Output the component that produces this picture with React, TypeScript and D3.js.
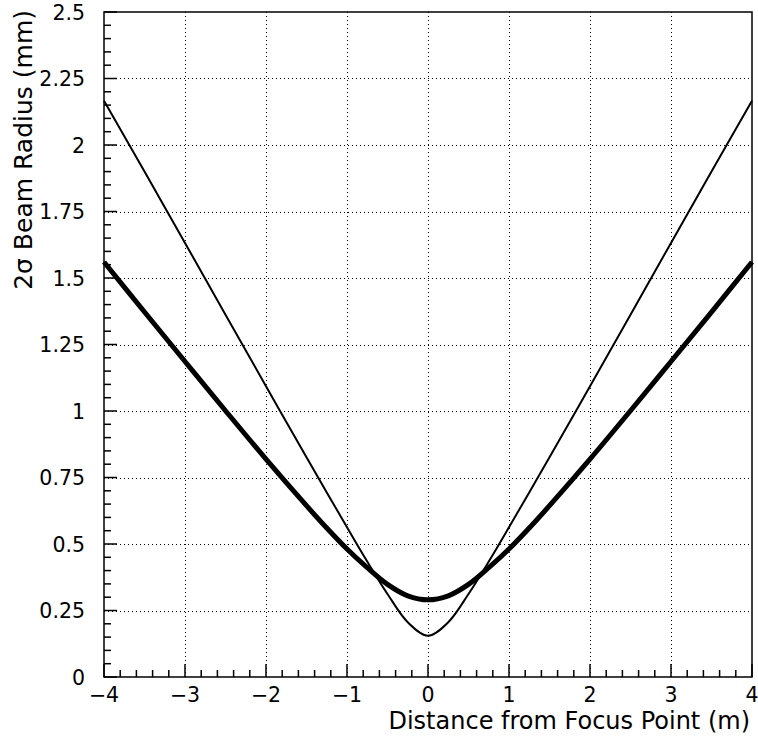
import React from "react";
import * as d3 from "d3";

const xPositions = [-4, -3.5, -3, -2.5, -2, -1.5, -1.25, -1, -0.75, -0.5, -0.25, 0, 0.25, 0.5, 0.75, 1, 1.25, 1.5, 2, 2.5, 3, 3.5, 4];
const thickRadius = [1.56, 1.372, 1.186, 1.001, 0.819, 0.644, 0.56, 0.481, 0.411, 0.348, 0.305, 0.29, 0.305, 0.348, 0.411, 0.481, 0.56, 0.644, 0.819, 1.001, 1.186, 1.372, 1.56];
const thinRadius = [2.166, 1.9, 1.632, 1.362, 1.093, 0.826, 0.694, 0.563, 0.434, 0.312, 0.206, 0.155, 0.206, 0.312, 0.434, 0.563, 0.694, 0.826, 1.093, 1.362, 1.632, 1.9, 2.166];

const xTicks = [-4, -3, -2, -1, 0, 1, 2, 3, 4];
const xTickLabels = ["\u22124", "\u22123", "\u22122", "\u22121", "0", "1", "2", "3", "4"];
const yTicks = [0, 0.25, 0.5, 0.75, 1, 1.25, 1.5, 1.75, 2, 2.25, 2.5];
const yTickLabels = ["0", "0.25", "0.5", "0.75", "1", "1.25", "1.5", "1.75", "2", "2.25", "2.5"];

const W = 758, H = 738;
const L = 104, R = 752, T = 12, B = 677;
const FONT = "DejaVu Sans, Verdana, sans-serif";

export default function App() {
  const x = d3.scaleLinear().domain([-4, 4]).range([L, R]);
  const y = d3.scaleLinear().domain([0, 2.5]).range([B, T]);
  const line = d3
    .line<number>()
    .x((_, i) => x(xPositions[i]))
    .y((d) => y(d))
    .curve(d3.curveCatmullRom.alpha(0.5));

  const xMinor = d3.range(-4, 4.0001, 0.2);
  const yMinor = d3.range(0, 2.5001, 0.05);

  return (
    <svg width={W} height={H} style={{ position: "absolute", left: 0, top: 0, background: "#fff" }}>
      <rect x={0} y={0} width={W} height={H} fill="#fff" />
      {/* grid */}
      <g stroke="#000" strokeWidth={1} strokeDasharray="1,3">
        {xTicks.slice(1, -1).map((t) => (
          <line key={"gx" + t} x1={x(t) + 0.5} x2={x(t) + 0.5} y1={T} y2={B} />
        ))}
        {yTicks.slice(1, -1).map((t) => (
          <line key={"gy" + t} x1={L} x2={R} y1={Math.round(y(t)) + 0.5} y2={Math.round(y(t)) + 0.5} />
        ))}
      </g>
      {/* ticks */}
      <g stroke="#000" strokeWidth={1.5}>
        {xMinor.map((t, i) => {
          const major = i % 5 === 0;
          return <line key={"tx" + i} x1={x(t)} x2={x(t)} y1={B} y2={B - (major ? 13 : 7)} />;
        })}
        {yMinor.map((t, i) => {
          const major = i % 5 === 0;
          return <line key={"ty" + i} x1={L} x2={L + (major ? 13 : 7)} y1={y(t)} y2={y(t)} />;
        })}
      </g>
      {/* frame */}
      <rect x={L} y={T} width={R - L} height={B - T} fill="none" stroke="#000" strokeWidth={1.5} />
      {/* curves */}
      <path d={line(thinRadius) || ""} fill="none" stroke="#000" strokeWidth={2} />
      <path d={line(thickRadius) || ""} fill="none" stroke="#000" strokeWidth={5} />
      {/* tick labels */}
      <g fontFamily={FONT} fontSize={20.5} fill="#000">
        {xTicks.map((t, i) => (
          <text key={"lx" + t} x={x(t)} y={702} textAnchor="middle">
            {xTickLabels[i]}
          </text>
        ))}
        {yTicks.map((t, i) => (
          <text key={"ly" + t} x={85} y={y(t) + 7.5} textAnchor="end">
            {yTickLabels[i]}
          </text>
        ))}
      </g>
      <text x={750} y={729} textAnchor="end" fontFamily={FONT} fontSize={24} fill="#000">
        Distance from Focus Point (m)
      </text>
      <text
        transform="translate(32,10) rotate(-90)"
        textAnchor="end"
        fontFamily={FONT}
        fontSize={25}
        fill="#000"
      >
        2σ Beam Radius (mm)
      </text>
    </svg>
  );
}
